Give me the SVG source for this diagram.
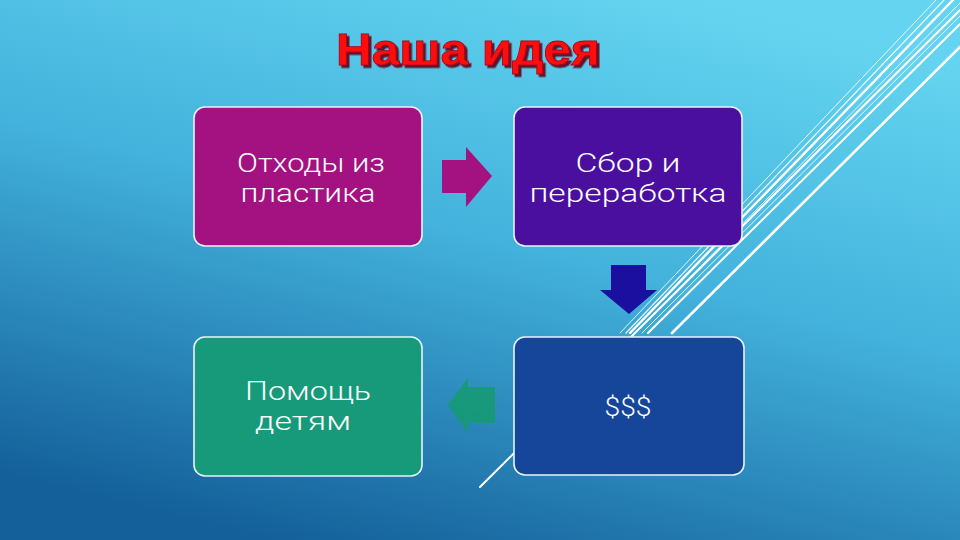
<svg xmlns="http://www.w3.org/2000/svg" width="960" height="540" viewBox="0 0 960 540">
  <defs>
    <linearGradient id="bg" x1="0.72" y1="0" x2="0.28" y2="1">
      <stop offset="0" stop-color="#64D4F0"/>
      <stop offset="0.45" stop-color="#43B2DC"/>
      <stop offset="1" stop-color="#14609A"/>
    </linearGradient>
    <filter id="shadow" x="-10%" y="-20%" width="120%" height="150%">
      <feDropShadow dx="2.5" dy="2.5" stdDeviation="0.6" flood-color="#5A1020" flood-opacity="0.95"/>
    </filter>
    <style>
      .box { stroke: #E8F4FA; stroke-width: 1.6; }
      .lbl { font-family: Roboto, "Liberation Sans", sans-serif; font-weight: 300; font-size: 25px; fill: #FFFFFF; text-anchor: middle; }
      .ln { stroke: #FFFFFF; fill: none; stroke-linecap: round; }
      .title { font-family: "Liberation Sans", "Arial", sans-serif; font-weight: bold; font-size: 44px; }
    </style>
  </defs>

  <rect width="960" height="540" fill="url(#bg)"/>

  <g id="diagonal-lines">
    <line class="ln" x1="936" y1="0" x2="620" y2="333" stroke-width="1" opacity="0.85"/>
    <line class="ln" x1="944" y1="0" x2="626" y2="333" stroke-width="1.2" opacity="0.9"/>
    <line class="ln" x1="953" y1="0" x2="630" y2="333" stroke-width="2.4"/>
    <line class="ln" x1="960" y1="3" x2="635" y2="333" stroke-width="1" opacity="0.85"/>
    <line class="ln" x1="960" y1="10" x2="480" y2="487" stroke-width="2"/>
    <line class="ln" x1="960" y1="16" x2="642" y2="333" stroke-width="1" opacity="0.85"/>
    <line class="ln" x1="960" y1="24" x2="648" y2="333" stroke-width="2"/>
    <line class="ln" x1="960" y1="47" x2="672" y2="333" stroke-width="2.6"/>
  </g>

  <g id="title">
    <text class="title" x="336" y="65" textLength="264" lengthAdjust="spacingAndGlyphs" fill="#FF1010" stroke="#B00018" stroke-width="0.8" filter="url(#shadow)">Наша идея</text>
  </g>

  <g id="node-waste">
    <rect class="box" x="194" y="107" width="228" height="139" rx="11" fill="#A31280"/>
    <text class="lbl" x="311" y="172" textLength="148" lengthAdjust="spacingAndGlyphs" fill="#FCE6F6">Отходы из</text>
    <text class="lbl" x="308" y="202" textLength="135" lengthAdjust="spacingAndGlyphs" fill="#FCE6F6">пластика</text>
  </g>

  <g id="node-recycling">
    <rect class="box" x="514" y="107" width="228" height="139" rx="11" fill="#4A0F9F"/>
    <text class="lbl" x="628" y="172" textLength="105" lengthAdjust="spacingAndGlyphs" fill="#F6E8FC">Сбор и</text>
    <text class="lbl" x="628" y="202" textLength="197" lengthAdjust="spacingAndGlyphs" fill="#F6E8FC">переработка</text>
  </g>

  <g id="node-help">
    <rect class="box" x="194" y="337" width="228" height="139" rx="11" fill="#179A7A"/>
    <text class="lbl" x="308" y="400" textLength="126" lengthAdjust="spacingAndGlyphs">Помощь</text>
    <text class="lbl" x="303" y="430" textLength="96" lengthAdjust="spacingAndGlyphs">детям</text>
  </g>

  <g id="node-money">
    <rect class="box" x="514" y="337" width="230" height="138" rx="11" fill="#15469A"/>
    <text class="lbl" x="628" y="416" textLength="47" lengthAdjust="spacingAndGlyphs" fill="#EAF4FF">$$$</text>
  </g>

  <g id="connectors">
    <polygon points="442,160 466,160 466,147 492,176 466,207 466,193 442,193" fill="#A31280"/>
    <polygon points="611,265 646,265 646,290 657,290 629,314 600,290 611,290" fill="#1A0F9F"/>
    <polygon points="495,387 468,387 468,378 448,405 468,433 468,423 495,423" fill="#169A74" opacity="0.9"/>
  </g>
</svg>
